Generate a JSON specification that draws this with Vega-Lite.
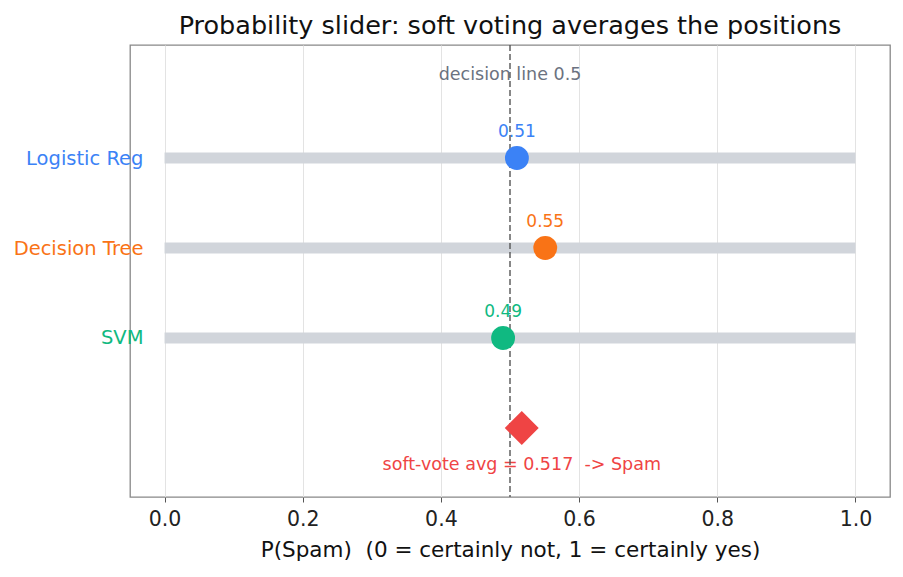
{
  "$schema": "https://vega.github.io/schema/vega-lite/v6.json",
  "width": 760,
  "height": 452,
  "autosize": {"type": "none"},
  "padding": {"left": 130, "top": 45, "right": 13, "bottom": 80},
  "background": "white",
  "title": {"text": "Probability slider: soft voting averages the positions", "font": "DejaVu Sans", "fontSize": 25.5, "fontWeight": "normal", "color": "#111", "offset": 5, "anchor": "middle"},
  "config": {
    "font": "DejaVu Sans",
    "view": {"stroke": "#888", "strokeWidth": 1.3}
  },
  "datasets": {
    "models": [
      {"model": "Logistic Reg", "p": 0.51, "row": 3, "label": "0.51"},
      {"model": "Decision Tree", "p": 0.551, "row": 2, "label": "0.55"},
      {"model": "SVM", "p": 0.49, "row": 1, "label": "0.49"}
    ],
    "soft": [
      {"model": "soft vote", "p": 0.517, "row": 0, "label": "soft-vote avg = 0.517\u00a0\u00a0-> Spam"}
    ],
    "decision": [
      {"p": 0.5, "row": 3.92, "label": "decision line 0.5"}
    ]
  },
  "encoding": {
    "x": {"type": "quantitative", "scale": {"domain": [-0.05, 1.05], "nice": false, "zero": false},
      "axis": {"values": [0, 0.2, 0.4, 0.6, 0.8, 1.0], "format": ".1f", "title": "P(Spam)\u00a0\u00a0(0 = certainly not, 1 = certainly yes)",
        "titleFont": "DejaVu Sans", "titleFontSize": 21.5, "titleFontWeight": "normal", "titleColor": "#111", "titlePadding": 10,
        "labelFontSize": 20.5, "labelColor": "#222", "labelPadding": 7, "tickColor": "#555", "tickSize": 5, "domain": false,
        "grid": true, "gridColor": "#e3e3e3", "gridWidth": 1}},
    "y": {"type": "quantitative", "scale": {"domain": [-0.767, 4.256], "nice": false, "zero": false},
      "axis": {"values": [1, 2, 3], "title": null, "grid": false, "ticks": false, "domain": false, "labelPadding": -13,
        "labelFontSize": 19.5, "labelBaseline": "middle",
        "labelExpr": "datum.value == 3 ? 'Logistic Reg' : datum.value == 2 ? 'Decision Tree' : 'SVM'",
        "labelColor": {"condition": [{"test": "datum.value == 3", "value": "#3b82f6"}, {"test": "datum.value == 2", "value": "#f97316"}], "value": "#10b981"}}}
  },
  "layer": [
    {
      "data": {"name": "models"},
      "mark": {"type": "rule", "strokeWidth": 11, "color": "#d1d5db", "strokeCap": "butt"},
      "encoding": {"x": {"datum": 0}, "x2": {"datum": 1}, "y": {"field": "row"}}
    },
    {
      "data": {"name": "models"},
      "mark": {"type": "text", "fontSize": 17, "dy": -26, "baseline": "middle"},
      "encoding": {"x": {"field": "p"}, "y": {"field": "row"}, "text": {"field": "label"},
        "color": {"field": "model", "type": "nominal", "legend": null,
          "scale": {"domain": ["Logistic Reg", "Decision Tree", "SVM", "soft vote"], "range": ["#3b82f6", "#f97316", "#10b981", "#ef4444"]}}}
    },
    {
      "data": {"name": "soft"},
      "mark": {"type": "text", "fontSize": 17.5, "dy": 37, "baseline": "middle", "color": "#ef4444"},
      "encoding": {"x": {"field": "p"}, "y": {"field": "row"}, "text": {"field": "label"}}
    },
    {
      "data": {"name": "decision"},
      "mark": {"type": "text", "fontSize": 17.5, "baseline": "middle", "color": "#6b7280"},
      "encoding": {"x": {"field": "p"}, "y": {"field": "row"}, "text": {"field": "label"}}
    },
    {
      "data": {"name": "decision"},
      "mark": {"type": "rule", "color": "#555", "strokeWidth": 1.4, "strokeDash": [6, 3]},
      "encoding": {"x": {"field": "p"}}
    },
    {
      "data": {"name": "models"},
      "mark": {"type": "point", "shape": "circle", "filled": true, "opacity": 1, "size": 570},
      "encoding": {"x": {"field": "p"}, "y": {"field": "row"},
        "color": {"field": "model", "type": "nominal", "legend": null,
          "scale": {"domain": ["Logistic Reg", "Decision Tree", "SVM", "soft vote"], "range": ["#3b82f6", "#f97316", "#10b981", "#ef4444"]}}}
    },
    {
      "data": {"name": "soft"},
      "mark": {"type": "point", "shape": "diamond", "filled": true, "opacity": 1, "size": 1150, "color": "#ef4444"},
      "encoding": {"x": {"field": "p"}, "y": {"field": "row"}}
    }
  ]
}
